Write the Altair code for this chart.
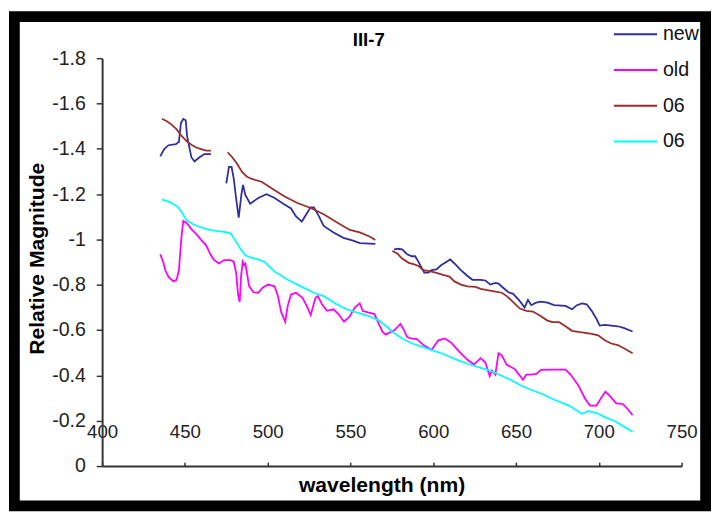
import altair as alt
import pandas as pd

# ---- data (wavelength nm, relative magnitude) ----
new_wl_a = [435.1, 437.5, 440.1, 444.6, 446.4, 447.6, 449.0, 450.5, 451.3, 452.9, 453.9, 455.8, 458.8, 461.8, 465.7]
new_mag_a = [-1.367, -1.399, -1.416, -1.421, -1.431, -1.514, -1.532, -1.526, -1.457, -1.399, -1.363, -1.344, -1.363, -1.377, -1.377]
new_wl_b = [475.0, 476.6, 478.2, 479.5, 480.9, 482.5, 484.1, 485.1, 486.5, 489.4, 494.3, 499.3, 504.2, 510.1, 514.1,
            517.0, 520.6, 523.9, 525.9, 527.9, 530.9, 533.8, 539.8, 545.7, 551.6, 555.6, 565.0]
new_mag_b = [-1.248, -1.320, -1.320, -1.269, -1.183, -1.096, -1.197, -1.241, -1.197, -1.158, -1.183, -1.200, -1.183,
             -1.154, -1.137, -1.103, -1.079, -1.118, -1.142, -1.142, -1.103, -1.060, -1.031, -1.007, -0.995, -0.984, -0.981]
new_wl_c = [576.3, 578.3, 581.2, 584.2, 587.1, 589.1, 591.1, 593.1, 594.6, 597.0, 599.0, 601.9, 604.9, 607.9, 610.2,
            612.8, 616.7, 620.7, 623.7, 628.6, 631.5, 634.5, 637.5, 639.4, 642.4, 645.4, 648.3, 652.3, 655.2, 657.2,
            659.2, 662.1, 665.1, 669.0, 673.0, 679.9, 683.8, 686.8, 689.8, 692.7, 695.7, 698.6, 700.6, 703.6, 707.5,
            711.5, 715.4, 720.4]
new_mag_c = [-0.955, -0.959, -0.956, -0.935, -0.926, -0.926, -0.901, -0.873, -0.854, -0.854, -0.865, -0.868, -0.887,
             -0.901, -0.912, -0.894, -0.865, -0.839, -0.822, -0.822, -0.819, -0.801, -0.808, -0.805, -0.786, -0.767,
             -0.760, -0.728, -0.700, -0.733, -0.710, -0.721, -0.726, -0.721, -0.710, -0.707, -0.692, -0.710, -0.718,
             -0.714, -0.685, -0.649, -0.620, -0.623, -0.620, -0.617, -0.609, -0.594]

old_wl = [435.1, 437.1, 438.1, 440.1, 443.1, 445.0, 446.4, 447.4, 448.1, 449.0, 450.9, 453.9, 456.9, 459.8, 462.8,
          465.7, 467.7, 470.6, 473.6, 477.6, 479.5, 481.0, 482.1, 483.1, 483.9, 484.9, 485.7, 486.5, 487.5, 488.8,
          491.4, 494.3, 497.1, 500.3, 504.2, 506.2, 508.2, 510.6, 512.1, 514.1, 517.1, 521.0, 524.0, 526.0, 527.5,
          528.9, 530.3, 532.8, 535.8, 539.8, 542.7, 546.1, 549.6, 552.6, 555.6, 557.5, 560.5, 564.5, 567.4, 569.4,
          571.3, 574.3, 576.3, 580.2, 582.2, 584.2, 586.1, 590.1, 594.1, 599.0, 602.9, 606.9, 610.8, 615.7, 620.7,
          624.6, 628.6, 631.5, 634.1, 635.5, 637.5, 639.4, 641.4, 644.4, 649.3, 654.2, 656.2, 659.2, 662.2, 665.1,
          672.0, 679.9, 682.9, 687.8, 691.8, 694.7, 698.6, 701.6, 704.0, 706.6, 710.5, 714.5, 717.4, 720.4]
old_mag = [-0.935, -0.896, -0.865, -0.835, -0.815, -0.822, -0.865, -0.966, -1.024, -1.082, -1.074, -1.046, -1.024,
           -0.998, -0.974, -0.930, -0.909, -0.894, -0.909, -0.909, -0.901, -0.851, -0.757, -0.724, -0.836, -0.901,
           -0.887, -0.894, -0.851, -0.793, -0.767, -0.765, -0.788, -0.801, -0.793, -0.750, -0.678, -0.637, -0.707,
           -0.757, -0.765, -0.743, -0.700, -0.666, -0.707, -0.743, -0.750, -0.714, -0.685, -0.692, -0.671, -0.637,
           -0.661, -0.700, -0.718, -0.684, -0.678, -0.671, -0.623, -0.592, -0.580, -0.592, -0.598, -0.627, -0.601,
           -0.570, -0.563, -0.560, -0.534, -0.512, -0.554, -0.563, -0.545, -0.505, -0.469, -0.448, -0.476, -0.457,
           -0.397, -0.422, -0.404, -0.498, -0.489, -0.447, -0.428, -0.381, -0.404, -0.404, -0.407, -0.425, -0.426,
           -0.426, -0.404, -0.354, -0.296, -0.267, -0.267, -0.303, -0.329, -0.310, -0.277, -0.274, -0.252, -0.224]

r06_wl_a = [436.1, 439.1, 442.0, 445.0, 448.0, 450.9, 453.9, 456.9, 459.8, 462.8, 465.7]
r06_mag_a = [-1.533, -1.522, -1.507, -1.486, -1.457, -1.435, -1.418, -1.406, -1.399, -1.392, -1.392]
r06_wl_b = [475.8, 478.6, 481.5, 484.5, 487.5, 490.4, 496.4, 502.3, 510.2, 518.0, 526.0, 533.8, 543.7, 549.6, 555.6,
            561.5, 565.0]
r06_mag_b = [-1.385, -1.363, -1.334, -1.298, -1.277, -1.267, -1.255, -1.226, -1.190, -1.161, -1.139, -1.111, -1.067,
             -1.042, -1.031, -1.013, -0.998]
r06_wl_c = [575.3, 578.3, 581.2, 585.2, 588.1, 591.1, 594.1, 597.0, 600.9, 605.9, 609.8, 612.8, 616.7, 620.7, 625.6,
            628.6, 632.6, 637.5, 641.4, 644.4, 648.3, 652.3, 656.2, 660.2, 664.1, 669.0, 672.0, 676.0, 679.9, 683.8,
            687.8, 691.7, 695.7, 699.6, 703.6, 707.5, 711.5, 715.4, 720.4]
r06_mag_c = [-0.949, -0.938, -0.916, -0.897, -0.891, -0.883, -0.865, -0.861, -0.855, -0.844, -0.836, -0.815, -0.801,
             -0.793, -0.791, -0.782, -0.776, -0.770, -0.765, -0.750, -0.724, -0.695, -0.685, -0.682, -0.666, -0.642,
             -0.635, -0.635, -0.617, -0.597, -0.592, -0.588, -0.583, -0.577, -0.555, -0.541, -0.534, -0.519, -0.498]

c06_wl = [436.1, 441.0, 446.0, 448.9, 450.9, 454.9, 459.8, 464.7, 468.7, 473.6, 477.6, 480.5, 483.5, 486.5, 490.4,
          494.3, 498.3, 504.2, 512.1, 520.0, 527.9, 533.8, 541.7, 547.6, 553.6, 561.5, 567.4, 573.3, 575.3, 581.2,
          587.1, 593.1, 599.0, 604.9, 610.8, 616.7, 622.7, 628.6, 634.5, 640.4, 646.4, 652.3, 658.2, 666.1, 672.0,
          681.9, 689.8, 693.7, 698.7, 703.6, 709.5, 715.4, 720.4]
c06_mag = [-1.176, -1.165, -1.142, -1.111, -1.085, -1.067, -1.053, -1.042, -1.038, -1.034, -1.027, -0.995, -0.959,
           -0.930, -0.919, -0.912, -0.900, -0.858, -0.822, -0.793, -0.765, -0.750, -0.714, -0.692, -0.678, -0.661,
           -0.642, -0.606, -0.592, -0.563, -0.541, -0.527, -0.512, -0.498, -0.479, -0.462, -0.447, -0.433, -0.421,
           -0.401, -0.382, -0.358, -0.339, -0.317, -0.296, -0.267, -0.231, -0.242, -0.234, -0.216, -0.199, -0.173,
           -0.151]

series_keys = ["new", "old", "06a", "06b"]
series_colors = ["#2e2e9e", "#ff00ff", "#9b2d2d", "#00ffff"]
x_ticks = [400, 450, 500, 550, 600, 650, 700, 750]
y_ticks = [-1.8, -1.6, -1.4, -1.2, -1.0, -0.8, -0.6, -0.4, -0.2, 0.0]
chart_title = "III-7"

rows = []
def add(series, seg, xs, ys):
    for xv, yv in zip(xs, ys):
        rows.append({"series": series, "seg": f"{series}-{seg}", "wl": xv, "mag": yv})

add("new", 1, new_wl_a, new_mag_a)
add("new", 2, new_wl_b, new_mag_b)
add("new", 3, new_wl_c, new_mag_c)
add("old", 1, old_wl, old_mag)
add("06a", 1, r06_wl_a, r06_mag_a)
add("06a", 2, r06_wl_b, r06_mag_b)
add("06a", 3, r06_wl_c, r06_mag_c)
add("06b", 1, c06_wl, c06_mag)
df = pd.DataFrame(rows)

FONT = "Liberation Sans"

lines = alt.Chart(df).mark_line(strokeWidth=1.8).encode(
    x=alt.X("wl:Q",
            scale=alt.Scale(domain=[400, 750], nice=False, zero=False),
            axis=alt.Axis(orient="top", offset=-416, values=x_ticks, format="d",
                          tickSize=4, tickWidth=1.5, tickColor="#333333",
                          domainColor="#333333", domainWidth=2,
                          labelPadding=21, labelFlush=False, labelOverlap=False,
                          labelFontSize=19, labelColor="#222222", labelFont=FONT,
                          grid=False,
                          title="wavelength (nm)", titleX=285, titleY=20,
                          titleAlign="center", titleBaseline="middle",
                          titleFontSize=21.5, titleFontWeight="bold", titleFont=FONT,
                          titleColor="black")),
    y=alt.Y("mag:Q",
            scale=alt.Scale(domain=[-1.8, 0], reverse=True, nice=False, zero=False),
            axis=alt.Axis(values=y_ticks,
                          labelExpr="datum.value == 0 ? '0' : '-' + format(abs(datum.value), '.1~f')",
                          tickSize=6, tickWidth=1.5, tickColor="#333333",
                          domainColor="#333333", domainWidth=2,
                          labelPadding=11, labelOverlap=False, labelFontSize=20,
                          labelColor="#222222", labelFont=FONT, grid=False,
                          title="Relative Magnitude", titleX=-66, titleY=204,
                          titleAngle=270, titleAlign="center", titleBaseline="middle",
                          titleFontSize=21.5, titleFontWeight="bold", titleFont=FONT,
                          titleColor="black")),
    color=alt.Color("series:N",
                    scale=alt.Scale(domain=series_keys, range=series_colors),
                    legend=alt.Legend(title=None, orient="none", legendX=521, legendY=-34.5,
                                      symbolType="stroke", symbolSize=1936, symbolStrokeWidth=2,
                                      clipHeight=20, rowPadding=16.5, labelOffset=5,
                                      labelFontSize=20, labelFont=FONT, labelColor="#111111",
                                      padding=0, offset=0,
                                      labelExpr="datum.label == '06a' || datum.label == '06b' ? '06' : datum.label")),
    detail="seg:N",
)

title_text = alt.Chart(pd.DataFrame({"t": [chart_title]})).mark_text(
    fontSize=19, fontWeight="bold", font=FONT, color="black", align="center", baseline="middle"
).encode(text="t:N", x=alt.value(272), y=alt.value(-18))

frame = alt.Chart(pd.DataFrame({"k": [0]})).mark_rect(
    fillOpacity=0, stroke="black", strokeWidth=11
).encode(
    x=alt.value(-89.5), x2=alt.value(615.5), y=alt.value(-42.5), y2=alt.value(456.5)
)

chart = alt.layer(lines, title_text, frame).properties(
    width=591, height=416,
    autosize=alt.AutoSizeParams(type="none"),
    padding={"left": 96, "top": 46, "right": 30, "bottom": 60},
).configure(font=FONT).configure_view(strokeOpacity=0)

chart.save("out.html", embed_options={"renderer": "svg", "actions": False})
